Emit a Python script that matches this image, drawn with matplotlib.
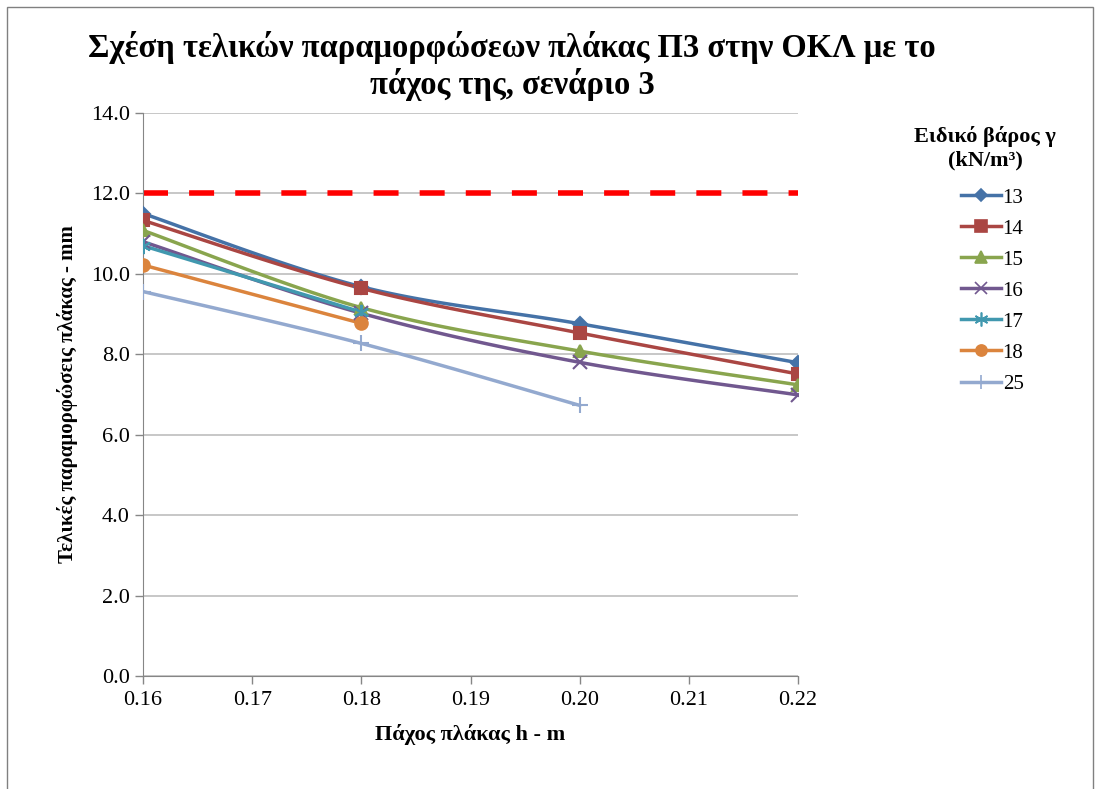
import matplotlib
matplotlib.use('Agg')
import matplotlib.pyplot as plt
from matplotlib.patches import Rectangle
import numpy as np

plt.rcParams['font.family'] = ['Liberation Serif', 'DejaVu Serif']

# pachos plakas h (m) and final deformations (mm) per specific weight
h13 = [0.16, 0.18, 0.20, 0.22]
d13 = [11.50, 9.68, 8.76, 7.79]
h14 = [0.16, 0.18, 0.20, 0.22]
d14 = [11.33, 9.64, 8.53, 7.51]
h15 = [0.16, 0.18, 0.20, 0.22]
d15 = [11.08, 9.16, 8.08, 7.24]
h16 = [0.16, 0.18, 0.20, 0.22]
d16 = [10.80, 9.02, 7.80, 6.99]
h17 = [0.16, 0.18]
d17 = [10.70, 9.05]
h18 = [0.16, 0.18]
d18 = [10.22, 8.77]
h25 = [0.16, 0.18, 0.20]
d25 = [9.56, 8.27, 6.73]
limit = 12.0

labels = ['13', '14', '15', '16', '17', '18', '25']
colors = ['#4572A7', '#AA4643', '#89A54E', '#71588F', '#4198AF', '#DB843D', '#93A9CF']
asterisk = (6, 2, 0)
markers = ['D', 's', '^', 'x', asterisk, 'o', '+']
msizes = [7, 9, 9, 10, 11, 9, 11]
series = [(h13, d13), (h14, d14), (h15, d15), (h16, d16), (h17, d17), (h18, d18), (h25, d25)]


def smooth(x, y, n=30):
    # catmull-rom style smoothing between the points (like excel smoothed lines)
    x = np.asarray(x, float); y = np.asarray(y, float)
    if len(x) < 3:
        return x, y
    px = np.concatenate([[x[0]], x, [x[-1]]])
    py = np.concatenate([[y[0]], y, [y[-1]]])
    xs, ys = [], []
    for i in range(1, len(px) - 2):
        p0 = np.array([px[i], py[i]]); p3 = np.array([px[i+1], py[i+1]])
        c1 = p0 + (np.array([px[i+1], py[i+1]]) - np.array([px[i-1], py[i-1]])) / 6.0
        c2 = p3 - (np.array([px[i+2], py[i+2]]) - np.array([px[i], py[i]])) / 6.0
        t = np.linspace(0, 1, n)[:, None]
        b = (1-t)**3*p0 + 3*(1-t)**2*t*c1 + 3*(1-t)*t**2*c2 + t**3*p3
        xs.extend(b[:, 0]); ys.extend(b[:, 1])
    return np.array(xs), np.array(ys)


fig = plt.figure(figsize=(10.97, 7.89), dpi=100)
ax = fig.add_axes([143/1097, 1-676/789, (798-143)/1097, (676-113)/789])

fig.patches.append(Rectangle((7/1097, -0.01), 1086/1097, 1-7/789+0.01, transform=fig.transFigure,
                             fill=False, edgecolor='#808080', lw=1))

for (x, y), lab, c, m, ms in zip(series, labels, colors, markers, msizes):
    sx, sy = smooth(x, y)
    ax.plot(sx, sy, color=c, lw=2.5, zorder=3)
    ax.plot(x, y, linestyle='none', marker=m, markersize=ms, color=c, mew=1.5, zorder=4)
    ax.plot([], [], color=c, lw=2.5, marker=m, markersize=ms - 1, mew=1.2, label=lab)

ax.axhline(limit, color='#FF0000', lw=4, dashes=(4.5, 3.8), zorder=2)

ax.set_xlim(0.16, 0.22)
ax.set_ylim(0, 14)
ax.set_xticks(np.arange(0.16, 0.2201, 0.01))
ax.set_xticklabels(['%.2f' % v for v in np.arange(0.16, 0.2201, 0.01)])
ax.set_yticks(np.arange(0, 14.1, 2))
ax.set_yticklabels(['%.1f' % v for v in np.arange(0, 14.1, 2)])
ax.tick_params(labelsize=16, length=6, color='#868686', width=1)
ax.tick_params(axis='x', pad=5)
ax.grid(axis='y', color='#BEBEBE', lw=1.2)
ax.set_axisbelow(True)
for s in ['top', 'right']:
    ax.spines[s].set_visible(False)
for s in ['left', 'bottom']:
    ax.spines[s].set_color('#868686')

ax.set_xlabel('Πάχος πλάκας h - m', fontsize=16, fontweight='bold', labelpad=10)
ax.set_ylabel('Τελικές παραμορφώσεις πλάκας - mm', fontsize=15, fontweight='bold', labelpad=9)

fig.text(512/1097, 1-66/789, 'Σχέση τελικών παραμορφώσεων πλάκας Π3 στην ΟΚΛ με το\nπάχος της, σενάριο 3',
         ha='center', va='center', fontsize=23.5, fontweight='bold', linespacing=1.12)

# legend title sits as its own text block above the entries
fig.text(985/1097, 1-148/789, 'Ειδικό βάρος γ\n(kN/m³)', ha='center', va='center',
         fontsize=16, fontweight='bold', linespacing=1.25)
leg = ax.legend(loc='upper left', bbox_to_anchor=(961/1097, 1-188/789), bbox_transform=fig.transFigure,
                frameon=False, fontsize=15, handlelength=1.9, handletextpad=0.1, labelspacing=0.55,
                borderaxespad=0, borderpad=0)

fig.savefig('out.png', dpi=100)
